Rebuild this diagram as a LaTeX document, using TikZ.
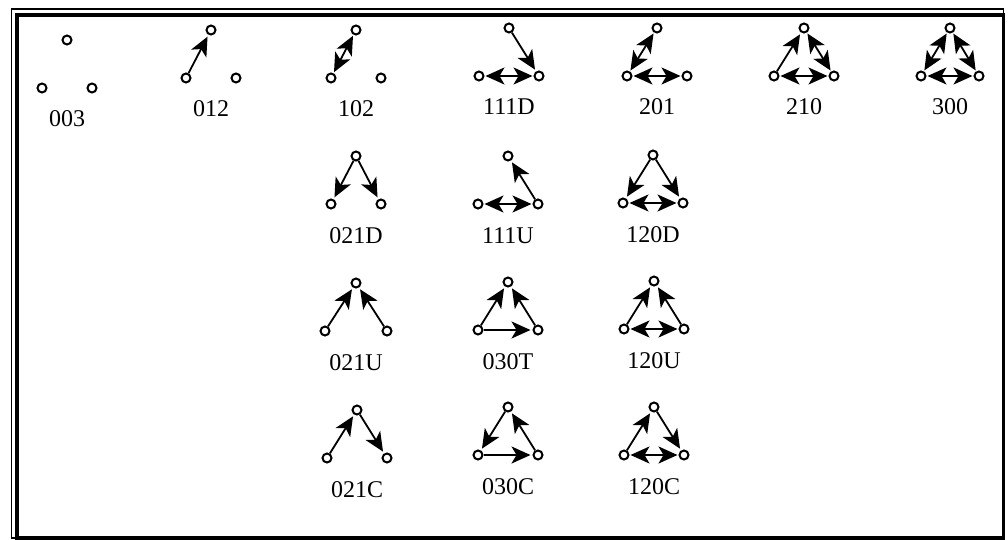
\documentclass[tikz,border=0pt]{standalone}
\usepackage{fontspec}
\setmainfont{Liberation Serif}
\usetikzlibrary{arrows.meta}

\tikzset{
   dot/.style={circle,draw,line width=2pt,inner sep=0pt,minimum size=9pt},
   lbl/.style={anchor=base,inner sep=0pt,font=\fontsize{24}{27}\selectfont},
   head/.tip={Stealth[length=19pt,width=17pt,inset=5pt]},
   arc/.style={line width=1.8pt,-head,shorten >=2pt},
   mut/.style={line width=1.8pt,head-head,shorten >=1pt,shorten <=1pt}
}

% one triad: id, x of top, y of top, half width, label
\newcommand{\triad}[5]{%
   \node[dot] (#1-t) at (#2,#3) {};
   \node[dot] (#1-l) at ({#2-#4},{#3+48}) {};
   \node[dot] (#1-r) at ({#2+#4},{#3+48}) {};
   \node[lbl] (#1-n) at (#2,{#3+87}) {#5};
}

\begin{document}
\begin{tikzpicture}[x=1pt,y=-1pt]
   \useasboundingbox (0,0) rectangle (1008,540);
   % frame
   \draw[line width=1.5pt] (11.5,9) rectangle (1003.5,538);
   \draw[line width=3.5pt] (17,15) rectangle (1003.5,538);

   % top row
   \triad{t003}{67}{40}{25}{003}
   \triad{t012}{211}{30}{25}{012}
   \draw[arc] (t012-l) -- (t012-t);
   \triad{t102}{356}{30}{25}{102}
   \draw[mut] (t102-l) -- (t102-t);
   \triad{t111D}{509}{28}{30}{111D}
   \draw[arc] (t111D-t) -- (t111D-r);
   \draw[mut] (t111D-l) -- (t111D-r);
   \triad{t201}{657}{28}{30}{201}
   \draw[mut] (t201-l) -- (t201-t);
   \draw[mut] (t201-l) -- (t201-r);
   \triad{t210}{804}{28}{30}{210}
   \draw[arc] (t210-l) -- (t210-t);
   \draw[mut] (t210-t) -- (t210-r);
   \draw[mut] (t210-l) -- (t210-r);
   \triad{t300}{950}{28}{29}{300}
   \draw[mut] (t300-l) -- (t300-t);
   \draw[mut] (t300-t) -- (t300-r);
   \draw[mut] (t300-l) -- (t300-r);

   % second row
   \triad{t021D}{356}{156}{25}{021D}
   \draw[arc] (t021D-t) -- (t021D-l);
   \draw[arc] (t021D-t) -- (t021D-r);
   \triad{t111U}{508}{156}{30}{111U}
   \draw[arc] (t111U-r) -- (t111U-t);
   \draw[mut] (t111U-l) -- (t111U-r);
   \triad{t120D}{653}{155}{30}{120D}
   \draw[arc] (t120D-t) -- (t120D-l);
   \draw[arc] (t120D-t) -- (t120D-r);
   \draw[mut] (t120D-l) -- (t120D-r);

   % third row
   \triad{t021U}{356}{283}{31}{021U}
   \draw[arc] (t021U-l) -- (t021U-t);
   \draw[arc] (t021U-r) -- (t021U-t);
   \triad{t030T}{508}{282}{30}{030T}
   \draw[arc] (t030T-l) -- (t030T-t);
   \draw[arc] (t030T-r) -- (t030T-t);
   \draw[arc] (t030T-l) -- (t030T-r);
   \triad{t120U}{654}{281}{30}{120U}
   \draw[arc] (t120U-l) -- (t120U-t);
   \draw[arc] (t120U-r) -- (t120U-t);
   \draw[mut] (t120U-l) -- (t120U-r);

   % bottom row
   \triad{t021C}{357}{410}{30}{021C}
   \draw[arc] (t021C-l) -- (t021C-t);
   \draw[arc] (t021C-t) -- (t021C-r);
   \triad{t030C}{508}{407}{30}{030C}
   \draw[arc] (t030C-t) -- (t030C-l);
   \draw[arc] (t030C-r) -- (t030C-t);
   \draw[arc] (t030C-l) -- (t030C-r);
   \triad{t120C}{654}{407}{30}{120C}
   \draw[arc] (t120C-l) -- (t120C-t);
   \draw[arc] (t120C-t) -- (t120C-r);
   \draw[mut] (t120C-l) -- (t120C-r);
\end{tikzpicture}
\end{document}
